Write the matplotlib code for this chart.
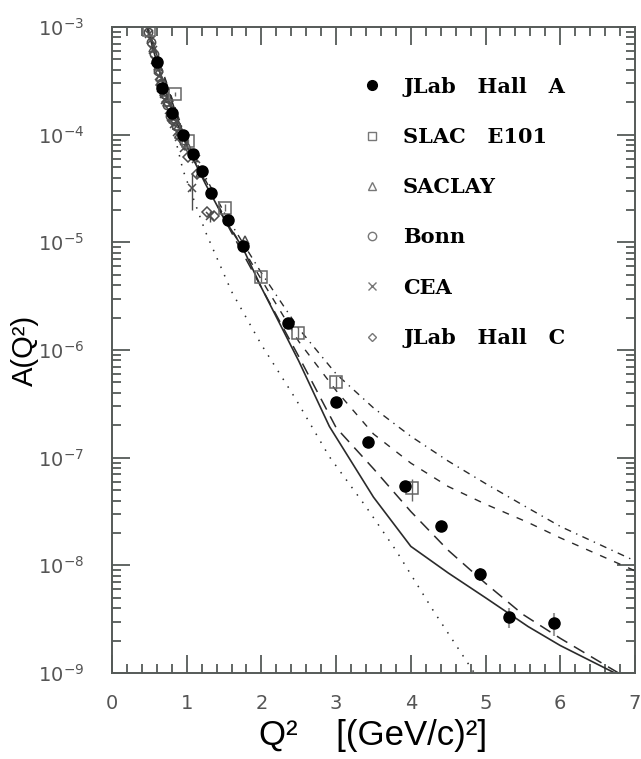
import matplotlib.pyplot as plt
from matplotlib.lines import Line2D
from matplotlib.ticker import (FixedLocator, LogLocator, LogFormatterMathtext,
                               MultipleLocator, NullFormatter)

# Datos experimentales A(Q^2)
jlab_a_q2 = [0.60, 0.67, 0.80, 0.95, 1.08, 1.21, 1.33, 1.55, 1.75, 2.35,
             3.00, 3.42, 3.92, 4.41, 4.92, 5.31, 5.91]
jlab_a_val = [4.7e-4, 2.7e-4, 1.6e-4, 1.0e-4, 6.6e-5, 4.6e-5, 2.9e-5, 1.6e-5,
              9.3e-6, 1.8e-6, 3.3e-7, 1.4e-7, 5.5e-8, 2.3e-8, 8.3e-9, 3.3e-9,
              2.9e-9]
jlab_a_err = [1.5e-5, 1.0e-5, 5e-6, 3e-6, 2e-6, 1.5e-6, 1.0e-6, 6e-7, 4e-7,
              1e-7, 2e-8, 1e-8, 5e-9, 2.5e-9, 1.2e-9, 7e-10, 7e-10]

slac_q2 = [0.50, 0.84, 1.02, 1.51, 2.00, 2.49, 3.00, 4.01]
slac_val = [9.3e-4, 2.4e-4, 8.8e-5, 2.1e-5, 4.8e-6, 1.45e-6, 5.0e-7, 5.2e-8]
slac_err = [3e-5, 1e-5, 4e-6, 1.5e-6, 5e-7, 1.8e-7, 7e-8, 1.2e-8]

saclay_q2 = [0.55, 0.61, 0.64, 0.70, 0.74, 0.81, 0.88, 1.00, 1.18, 1.78]
saclay_val = [6.4e-4, 4.3e-4, 3.4e-4, 2.5e-4, 2.0e-4, 1.4e-4, 1.2e-4, 8.0e-5,
              4.4e-5, 1.05e-5]

bonn_q2 = [0.48, 0.52, 0.56, 0.62, 0.66, 0.70, 0.74, 0.78, 0.86, 0.95]
bonn_val = [9.0e-4, 7.2e-4, 5.6e-4, 3.9e-4, 3.0e-4, 2.4e-4, 1.9e-4, 1.5e-4,
            1.2e-4, 9.0e-5]

cea_q2 = [0.50, 0.52, 0.55, 0.58, 0.61, 0.63, 0.66, 0.69, 0.71, 0.76, 0.79,
          0.83, 0.87, 0.90, 0.97, 1.07, 1.12, 1.31]
cea_val = [8.6e-4, 7.6e-4, 6.1e-4, 4.9e-4, 4.0e-4, 3.5e-4, 2.7e-4, 2.4e-4,
           2.1e-4, 1.7e-4, 1.45e-4, 1.25e-4, 1.05e-4, 9.5e-5, 7.5e-5, 3.2e-5,
           6.0e-5, 1.75e-5]
cea_err = [3e-5, 2e-5, 2e-5, 1.5e-5, 1.2e-5, 1e-5, 8e-6, 8e-6, 6e-6, 5e-6,
           5e-6, 4e-6, 4e-6, 3e-6, 3e-6, 1.2e-5, 4e-6, 2e-6]

hallc_q2 = [0.66, 0.73, 0.81, 0.91, 1.02, 1.14, 1.27, 1.36]
hallc_val = [2.9e-4, 2.0e-4, 1.35e-4, 9.5e-5, 6.2e-5, 4.3e-5, 1.9e-5, 1.75e-5]

# Curvas teoricas
solid_q2 = [0.45, 0.6, 0.8, 1.0, 1.25, 1.5, 1.75, 2.0, 2.5, 2.91, 3.5, 4.0,
            4.5, 5.0, 5.57, 6.0, 6.73]
solid_a = [1.12e-3, 4.7e-4, 1.66e-4, 7.9e-5, 3.5e-5, 1.66e-5, 8.9e-6, 3.8e-6,
           7.9e-7, 1.95e-7, 4.3e-8, 1.5e-8, 8.5e-9, 5.0e-9, 2.7e-9, 1.8e-9,
           1.0e-9]

longdash_q2 = [0.45, 1.0, 1.5, 2.0, 2.5, 3.0, 3.5, 4.0, 4.5, 5.0, 5.5, 6.0, 6.78]
longdash_a = [1.12e-3, 7.9e-5, 1.66e-5, 3.8e-6, 8.7e-7, 1.9e-7, 7.9e-8,
              3.16e-8, 1.38e-8, 6.8e-9, 3.5e-9, 2.1e-9, 1.0e-9]

shortdash_q2 = [0.45, 1.0, 1.5, 2.0, 2.5, 3.0, 3.5, 4.0, 4.5, 5.0, 5.57, 6.0, 7.0]
shortdash_a = [1.12e-3, 8.3e-5, 1.74e-5, 4.5e-6, 1.2e-6, 4.2e-7, 1.66e-7,
               8.9e-8, 5.4e-8, 3.7e-8, 2.5e-8, 1.8e-8, 8.9e-9]

dashdot_q2 = [0.45, 1.0, 1.5, 2.0, 2.5, 3.0, 3.5, 4.0, 4.5, 5.0, 5.57, 6.0, 7.0]
dashdot_a = [1.12e-3, 8.7e-5, 1.9e-5, 5.2e-6, 1.58e-6, 6.0e-7, 2.9e-7,
             1.58e-7, 9.3e-8, 5.75e-8, 3.4e-8, 2.3e-8, 1.1e-8]

dotted_q2 = [0.45, 0.7, 0.95, 1.25, 1.6, 2.0, 2.46, 2.91, 3.4, 3.8, 4.3, 4.85]
dotted_a = [1.12e-3, 2.4e-4, 4.7e-5, 1.26e-5, 3.5e-6, 1.12e-6, 3.5e-7,
            1.02e-7, 3.5e-8, 1.38e-8, 3.8e-9, 1.0e-9]

y_decades = [1e-9, 1e-8, 1e-7, 1e-6, 1e-5, 1e-4, 1e-3]

legend_labels = ["JLab   Hall   A", "SLAC   E101", "SACLAY", "Bonn", "CEA",
                 "JLab   Hall   C"]

plt.rcParams["font.family"] = ["DejaVu Sans"]

fig = plt.figure(figsize=(6.41, 7.59), dpi=100)
ax = fig.add_axes([0.1747, 0.1133, 0.8159, 0.8511])

line_col = "#2b2b2b"
gray = "#4d4d4d"
leg_gray = "#777777"

ax.plot(solid_q2, solid_a, color=line_col, lw=1.2, ls="-")
ax.plot(longdash_q2, longdash_a, color=line_col, lw=1.1, ls=(0, (8, 5)))
ax.plot(shortdash_q2, shortdash_a, color=line_col, lw=1.0, ls=(0, (5, 6)))
ax.plot(dashdot_q2, dashdot_a, color=line_col, lw=1.0, ls=(0, (5, 4, 1, 4)))
ax.plot(dotted_q2, dotted_a, color=line_col, lw=1.1, ls=(0, (1, 5)))

# Datos de otros laboratorios
ax.errorbar(cea_q2, cea_val, yerr=cea_err, fmt="x", color=gray, ms=6, mew=1.1,
            elinewidth=1.0, capsize=0)
ax.plot(bonn_q2, bonn_val, "o", mfc="none", mec=gray, ms=6, mew=1.1)
ax.plot(saclay_q2, saclay_val, "^", mfc="none", mec=gray, ms=6, mew=1.1)
ax.plot(hallc_q2, hallc_val, "D", mfc="none", mec=gray, ms=5, mew=1.1)
ax.errorbar(slac_q2, slac_val, yerr=slac_err, fmt="s", mfc="none", mec="#666666",
            ecolor="#666666", ms=8, mew=1.1, elinewidth=1.0, capsize=0)
ax.errorbar(jlab_a_q2, jlab_a_val, yerr=jlab_a_err, fmt="o", color="black",
            ecolor="#999999", ms=8, elinewidth=1.5, capsize=0)

ax.set_yscale("log")
ax.set_xlim(0, 7)
ax.set_ylim(1e-9, 1e-3)

ax.xaxis.set_major_locator(MultipleLocator(1))
ax.xaxis.set_minor_locator(MultipleLocator(0.2))
ax.yaxis.set_major_locator(FixedLocator(y_decades))
ax.yaxis.set_minor_locator(LogLocator(base=10, subs=range(2, 10), numticks=20))
ax.yaxis.set_major_formatter(LogFormatterMathtext())
ax.yaxis.set_minor_formatter(NullFormatter())

tick_col = "#555a58"
ax.tick_params(which="both", direction="in", top=True, right=True,
               color=tick_col, width=1.3, labelcolor="#555555", labelsize=14)
ax.tick_params(which="major", length=13)
ax.tick_params(which="minor", length=6.5)
ax.tick_params(axis="x", which="major", pad=15)
ax.tick_params(axis="y", which="major", pad=20)
for sp in ax.spines.values():
    sp.set_color(tick_col)
    sp.set_linewidth(1.4)

# Etiquetas de los ejes
fig.text(0.582, 0.018, "Q²    [(GeV/c)²]", fontsize=25,
         family="Liberation Sans", ha="center", va="baseline")
ax.set_ylabel("A(Q²)", fontsize=21, family="Liberation Sans")
ax.yaxis.set_label_coords(-0.14, 0.5)

handles = [
    Line2D([], [], ls="none", marker="o", color="black", ms=7),
    Line2D([], [], ls="none", marker="s", mfc="none", mec=leg_gray, ms=6, mew=1.0),
    Line2D([], [], ls="none", marker="^", mfc="none", mec=leg_gray, ms=6, mew=1.0),
    Line2D([], [], ls="none", marker="o", mfc="none", mec=leg_gray, ms=6, mew=1.0),
    Line2D([], [], ls="none", marker="x", color=leg_gray, ms=6, mew=1.0),
    Line2D([], [], ls="none", marker="D", mfc="none", mec=leg_gray, ms=4.5, mew=1.0),
]
ax.legend(handles, legend_labels, loc="upper left",
          bbox_to_anchor=(0.477, 0.923), frameon=False, handlelength=1.0,
          handletextpad=1.0, labelspacing=1.45, borderpad=0, borderaxespad=0,
          prop={"family": "DejaVu Serif", "weight": "bold", "size": 15})

plt.savefig("out.png", dpi=100)
